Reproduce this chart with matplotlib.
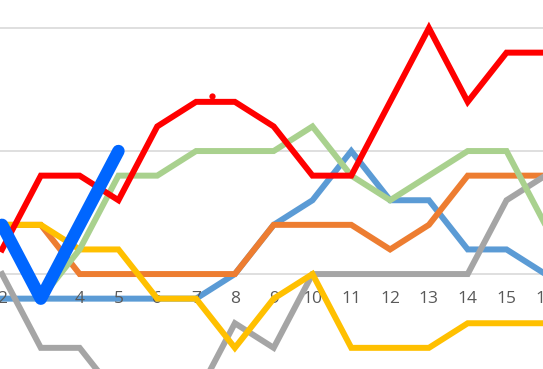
import matplotlib
matplotlib.use("Agg")
import matplotlib.pyplot as plt

x = list(range(2, 17))
steel_blue = [-1, -1, -1, -1, -1, -1, 0, 2, 3, 5, 3, 3, 1, 1, 0]
orange = [2, 2, 0, 0, 0, 0, 0, 2, 2, 2, 1, 2, 4, 4, 4]
gray = [0, -3, -3, -5, -5, -5, -2, -3, 0, 0, 0, 0, 0, 3, 4]
yellow = [2, 2, 1, 1, -1, -1, -3, -1, 0, -3, -3, -3, -2, -2, -2]
green = [None, -1, 1, 4, 4, 5, 5, 5, 6, 4, 3, 4, 5, 5, 2]
red = [1, 4, 4, 3, 6, 7, 7, 6, 4, 4, 7, 10, 7, 9, 9]
bright_x = [2, 3, 4, 5]
bright_blue = [2, -1, 2, 5]
red_dot_x = [7.41]
red_dot_y = [7.25]
gridlines = [0, 5, 10]

fig = plt.figure(figsize=(5.43, 3.69), dpi=100)
ax = fig.add_axes([0, 0, 1, 1])
ax.set_xlim(1.948, 15.94)
ax.set_ylim(-3.86, 11.14)
ax.axis("off")

for g in gridlines:
    ax.axhline(g, color="#D9D9D9", lw=1.2, zorder=1)

lw = 4.3
ax.plot(x, steel_blue, color="#5B9BD5", lw=lw, solid_joinstyle="miter", zorder=2)
for xi in x:
    ax.text(xi, -1, str(xi), ha="center", va="center", fontsize=12.5,
            color="#595959", family="Open Sans", zorder=3)
ax.plot(x, orange, color="#ED7D31", lw=lw, solid_joinstyle="miter", zorder=4)
ax.plot(x, gray, color="#A5A5A5", lw=lw, solid_joinstyle="miter", zorder=4)
ax.plot(x, yellow, color="#FFC000", lw=lw, solid_joinstyle="miter", zorder=4)
gx = [xi for xi, v in zip(x, green) if v is not None]
gv = [v for v in green if v is not None]
ax.plot(gx, gv, color="#A9D18E", lw=lw, solid_joinstyle="miter", zorder=4)
ax.plot(x, red, color="#FF0000", lw=lw, solid_joinstyle="miter", zorder=5)
ax.plot(red_dot_x, red_dot_y, "o", color="#FF0000", ms=4.5, mec="none", zorder=5)
ax.plot(bright_x, bright_blue, color="#0066FF", lw=9, solid_capstyle="round",
        solid_joinstyle="round", zorder=6)

fig.savefig("out.png", dpi=100)
